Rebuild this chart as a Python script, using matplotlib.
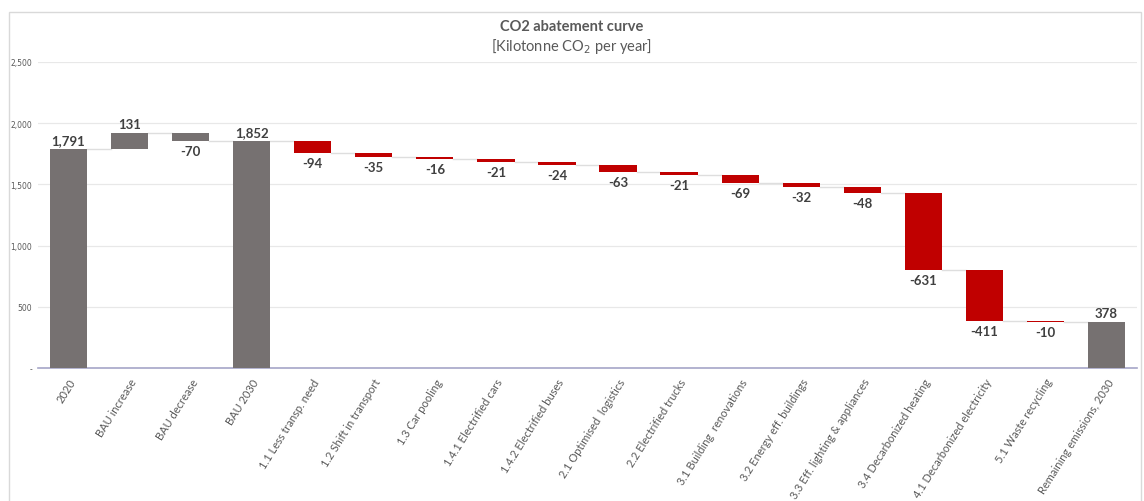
import matplotlib.pyplot as plt
import matplotlib.patches as mpatches
from matplotlib.ticker import FuncFormatter
import numpy as np

plt.rcParams['font.family'] = ['Lato', 'DejaVu Sans']

categories = ["2020", "BAU increase", "BAU decrease", "BAU 2030",
              "1.1 Less transp. need", "1.2 Shift in transport", "1.3 Car pooling",
              "1.4.1 Electrified cars", "1.4.2 Electrified buses",
              "2.1 Optimised  logistics", "2.2 Electrified trucks",
              "3.1 Building  renovations", "3.2 Energy eff. buildings",
              "3.3 Eff. lighting & appliances", "3.4 Decarbonized heating",
              "4.1 Decarbonized electricity", "5.1 Waste recycling",
              "Remaining emissions, 2030"]
values = [1791, 131, -70, 1852, -94, -35, -16, -21, -24, -63, -21, -69,
          -32, -48, -631, -411, -10, 378]
is_total = [True, False, False, True] + [False] * 13 + [True]
is_bau = [True, True, True, True] + [False] * 13 + [True]

GREY = "#767171"
RED = "#C00000"
TXT = "#404040"

n = len(values)
fig = plt.figure(figsize=(11.44, 5.02), dpi=100)
ax = fig.add_axes([38 / 1144, 1 - 369 / 502, (1137 - 38) / 1144, (369 - 63) / 502])

# waterfall geometry from running totals
bottoms, heights, levels = [], [], []
running = 0
for v, tot in zip(values, is_total):
    if tot:
        bottoms.append(0)
        heights.append(v)
        running = v
    else:
        bottoms.append(min(running, running + v))
        heights.append(abs(v))
        running = running + v
    levels.append(running)

x = np.arange(n)
width = 0.61
colors = [GREY if b else RED for b in is_bau]
ax.bar(x, heights, bottom=bottoms, width=width, color=colors, zorder=3)

# connector lines
for i in range(n - 1):
    ax.plot([x[i] + width / 2, x[i + 1] - width / 2], [levels[i], levels[i]],
            color="#dedede", lw=1, zorder=2)

# data labels
for i, (v, tot) in enumerate(zip(values, is_total)):
    txt = f"{v:,}"
    if tot or v > 0:
        ax.annotate(txt, (x[i], bottoms[i] + heights[i]), xytext=(0, 2),
                    textcoords="offset points", ha="center", va="bottom",
                    fontsize=9.5, fontweight="bold", color=TXT)
    else:
        ax.annotate(txt, (x[i], bottoms[i]), xytext=(0, -3),
                    textcoords="offset points", ha="center", va="top",
                    fontsize=9.5, fontweight="bold", color=TXT)

ax.set_xlim(-0.5, n - 0.5)
ax.set_ylim(0, 2500)
ax.set_yticks([0, 500, 1000, 1500, 2000, 2500])
ax.yaxis.set_major_formatter(FuncFormatter(lambda v, p: "-" if v == 0 else f"{int(v):,}"))
ax.tick_params(axis="y", labelsize=5.5, colors="#595959", length=0, pad=4)
for lbl in ax.get_yticklabels():
    lbl.set_family(["DejaVu Sans"])
ax.grid(axis="y", color="#e8e8e8", lw=0.9, zorder=0)
ax.set_xticks(x)
ax.set_xticklabels(categories, rotation=58, ha="right", rotation_mode="anchor",
                   fontsize=8, color="#595959")
ax.tick_params(axis="x", length=0, pad=6)
for s in ["top", "right", "left"]:
    ax.spines[s].set_visible(False)
ax.spines["bottom"].set_color("#a6a6c8")
ax.spines["bottom"].set_linewidth(1.2)

fig.text(0.5, 1 - 27 / 502, "CO2 abatement curve", ha="center", va="center",
         fontsize=10.5, fontweight="bold", color="#595959")
fig.text(0.5, 1 - 46 / 502, "[Kilotonne CO$_2$ per year]", ha="center", va="center",
         fontsize=10.5, color="#595959")

border = mpatches.Rectangle((9 / 1144, -0.02), (1141 - 9) / 1144, 1 - 13 / 502 + 0.02,
                            transform=fig.transFigure, fill=False,
                            edgecolor="#d9d9d9", lw=1)
fig.patches.append(border)

fig.savefig("out.png", dpi=100)
